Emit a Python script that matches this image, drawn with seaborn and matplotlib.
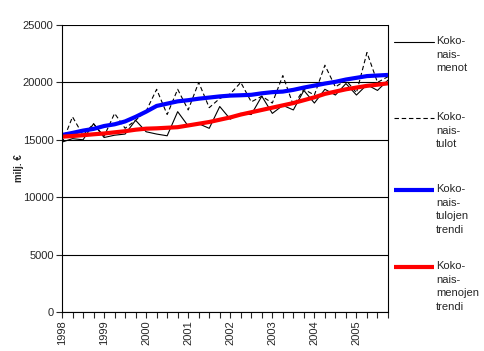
import numpy as np
import pandas as pd
import matplotlib
matplotlib.use("Agg")
import matplotlib.pyplot as plt
import seaborn as sns
from matplotlib.lines import Line2D

# quarterly data 1998Q1 .. 2005Q4
years = ["1998", "1999", "2000", "2001", "2002", "2003", "2004", "2005"]

menot = [14800, 15100, 15000, 16400, 15200, 15400, 15500, 16700,
         15700, 15500, 15350, 17450, 16200, 16400, 16000, 17900,
         16800, 17300, 17200, 18800, 17300, 18000, 17600, 19300,
         18200, 19400, 18900, 19900, 18900, 19800, 19300, 20200]

tulot = [14700, 17000, 15400, 16400, 15300, 17300, 16000, 16700,
         17500, 19400, 17200, 19400, 17600, 20000, 17800, 18600,
         19000, 20000, 18300, 18800, 18200, 20600, 18000, 19400,
         18900, 21500, 19600, 20200, 19100, 22600, 20000, 20500]

tulot_trendi = [15420, 15600, 15800, 15950, 16200, 16350, 16600, 17000,
                17450, 17950, 18150, 18350, 18450, 18580, 18680, 18780,
                18850, 18880, 18920, 19050, 19150, 19200, 19350, 19550,
                19720, 19900, 20050, 20250, 20400, 20550, 20600, 20650]

menot_trendi = [15270, 15330, 15400, 15480, 15550, 15650, 15750, 15880,
                15970, 16000, 16050, 16100, 16250, 16400, 16550, 16750,
                16950, 17200, 17400, 17600, 17800, 18000, 18200, 18450,
                18700, 19000, 19200, 19400, 19550, 19700, 19800, 19920]

labels = ["Koko-\nnais-\nmenot", "Koko-\nnais-\ntulot",
          "Koko-\nnais-\ntulojen\ntrendi", "Koko-\nnais-\nmenojen\ntrendi"]

q = np.arange(len(menot))
df = pd.DataFrame({"q": q, "menot": menot, "tulot": tulot,
                   "tulot_trendi": tulot_trendi, "menot_trendi": menot_trendi})

sns.set_style("white")
plt.rcParams["font.family"] = ["Liberation Sans", "DejaVu Sans"]

fig = plt.figure(figsize=(4.84, 3.51), dpi=100)
ax = fig.add_axes([62 / 484, 1 - 312 / 351, 326 / 484, 287 / 351])

sns.lineplot(data=df, x="q", y="menot", ax=ax, color="black", lw=0.8)
sns.lineplot(data=df, x="q", y="tulot", ax=ax, color="black", lw=0.8)
ax.lines[-1].set_dashes([4, 2.5])
sns.lineplot(data=df, x="q", y="tulot_trendi", ax=ax, color="#0000ff", lw=3,
             solid_capstyle="butt")
sns.lineplot(data=df, x="q", y="menot_trendi", ax=ax, color="#ff0000", lw=3,
             solid_capstyle="butt")

ax.set_xlim(0, len(q) - 1)
ax.set_ylim(0, 25000)
ax.set_yticks(np.arange(0, 25001, 5000))
ax.set_yticklabels([str(v) for v in range(0, 25001, 5000)], fontsize=8)
ax.grid(axis="y", color="black", lw=0.8)
ax.set_axisbelow(True)

ax.set_xticks(np.arange(0, len(q), 4))
ax.set_xticklabels(years, rotation=90, fontsize=8)
ax.set_xticks(np.arange(0, len(q)), minor=True)
ax.tick_params(axis="x", which="both", direction="out", length=4, width=0.8,
               bottom=True, pad=2)
ax.tick_params(axis="y", direction="out", length=4, width=0.8, left=True, pad=2)

ax.set_xlabel("")
ax.set_ylabel("milj. €", fontsize=7, fontweight="bold", labelpad=-1)

for side in ["left", "bottom", "right"]:
    ax.spines[side].set_color("black")
    ax.spines[side].set_linewidth(0.8)
ax.spines["top"].set_visible(False)

# legend to the right, handles aligned with first text line
leg_y = [42, 118, 190, 267]
styles = [dict(color="black", lw=0.8), dict(color="black", lw=0.8, dashes=[4, 2.5]),
          dict(color="#0000ff", lw=3, solid_capstyle="butt"),
          dict(color="#ff0000", lw=3, solid_capstyle="butt")]
for yy, lab, st in zip(leg_y, labels, styles):
    fy = 1 - yy / 351
    fig.add_artist(Line2D([394 / 484, 434 / 484], [fy, fy], transform=fig.transFigure, **st))
    fig.text(436 / 484, fy + 6 / 351, lab, fontsize=8, va="top", ha="left",
             linespacing=1.45)

fig.savefig("out.png", dpi=100)
